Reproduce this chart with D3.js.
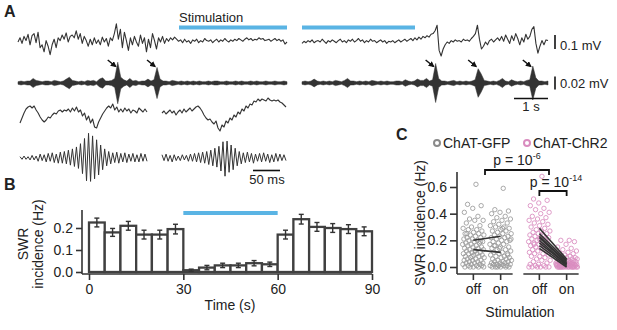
<!DOCTYPE html>
<html>
<head>
<meta charset="utf-8">
<script src="https://cdn.jsdelivr.net/npm/d3@7"></script>
<style>
  body { margin: 0; background: #fff; }
  svg { display: block; font-family: "Liberation Sans", Arial, sans-serif; }
</style>
</head>
<body>
<svg id="fig" width="617" height="330"></svg>
<script>
// ---------- data ----------
// A, row 1: wideband LFP (uV), before + during stimulation / during + after
const wideSeg1 = [0, 30, -10, 40, 10, 55, -20, 45, 60, -5, 70, -40, -20, -70, 10, -30, -90, -20, 20, -40,
  30, 10, 50, 20, 65, 0, 40, 50, 30, 80, 20, 60, -10, 40, 10, -30, 20, -20, 30, -10,
  15, -20, 35, 0, 25, -30, 30, 10, 60, 130, 20, 90, -40, 70, 10, -60, 30, -20, 40, 0,
  -30, 50, -10, 30, -70, 20, -40, 60, 10, -50, 30, 0, 40, -10, 25, 5, 30, 15, 35, 20,
  5, 15, -5, 20, 0, 10, -10, 15, 5, 20, -5, 10, 0, 25, 10, 5, 15, -5, 10, 20,
  0, 15, 5, 25, 10, 0, 15, 5, 20, 10, 25, 15, 5, 20, 30, 15, 25, 10, 20, 15,
  30, 20, 25, 10, 15, 20, 5, 15, 25, 10, 20, 5, 15, -15, 0];
const wideSeg2 = [-10, 5, -5, 10, 0, 15, -5, 5, 10, 0, 20, 5, -10, 10, 0, 15, 5, -5, 10, 20,
  0, 10, -5, 15, 5, 20, 0, 10, 25, 5, 15, -5, 10, 0, 20, 5, 10, -5, 5, 15,
  0, 10, -10, 5, 0, 10, -5, 5, 15, 0, 10, 20, 5, 15, 25, 10, 30, 15, 35, 20, 40,
  30, 45, 35, 55, 60, 80, 120, -60, -100, -50,
  -20, 0, -10, 10, 0, 15, 5, 10, 0, 20, 10, 15, 5, 25, 40, 60,
  120, 20, -50, -30, 0, -20, 10, 20, 0,
  15, 30, 10, 40, 5, 50, 20, -10, 45, 10, 60, 25, -20, 30, 0, 55, 20, 40, 90,
  110, -10, -80, -30, 10, -20, 15, 10];

// A, row 2: ripple-band envelope (uV)
const rippleEnv1 = [2, 3, 2, 3, 3, 7, 4, 3, 2, 3, 3, 2, 4, 3, 2, 3, 6, 9, 4, 3,
  2, 3, 2, 4, 3, 4, 2, 6, 8, 3, 3, 4, 7, 32, 9, 5, 3, 7, 3, 4,
  2, 3, 3, 6, 3, 5, 24, 6, 3, 3, 2, 4, 3, 2, 3, 2, 3, 2, 3, 2,
  3, 2, 2, 3, 2, 3, 3, 2, 2, 3, 2, 2, 3, 2, 3, 2, 2, 3, 2, 3,
  2, 2, 3, 2, 2, 3, 2, 2, 3, 2];
const rippleEnv2 = [2, 3, 2, 3, 6, 3, 2, 3, 2, 3, 2, 4, 3, 2, 4, 7, 3, 3, 2, 3,
  2, 3, 2, 4, 3, 2, 3, 2, 3, 2, 2, 3, 3, 2, 5, 3, 2, 3, 6, 4,
  4, 7, 3, 5, 30, 7, 3, 3, 2, 3, 4, 2, 3, 2, 3, 2, 3, 5, 22, 14,
  4, 3, 2, 3, 2, 4, 7, 3, 2, 5, 3, 2, 3, 2, 4, 5, 26, 8, 3, 3, 2, 3];
const rippleEvents1 = [33, 46];
const rippleEvents2 = [44, 58, 76];

// A, rows 3-4: single events, wideband (uV) and ripple band (uV)
const zoomWide1 = [-30, -5, 20, 40, 50, 55, 45, 55, 35, 20, 0, -15, -25, -15, 0, -5, 10, 20, 15, 30,
  35, 25, 35, 30, 40, 25, 45, 30, 50, 25, 35, 5, 20, -15, 5, -30, -10, -50, -55, -25,
  -5, 15, 30, 45, 55, 45, 65, 35, 50, 25, 40, 25, 45, 30, 40, 20, 35, 30, 20, 45, 35, 25, 40, 25];
const zoomWide2 = [20, 30, 15, 25, 35, 20, 30, 10, 25, 35, 20, 40, 25, 35, 45, 30, 40, 50, 55, 45,
  30, 10, -5, -15, -10, -25, -35, -20, -55, -70, -40, -50, -20, -30, -5, -15, 10, 0, 25, 15,
  40, 30, 55, 45, 65, 60, 80, 75, 90, 80, 90, 85, 80, 95, 85, 80, 85, 80, 85, 75, 70, 60, 50];
const zoomRipple1 = [2, -2, 3, -2, 2, -3, 4, -3, 3, -5, 6, -4, 5, -6, 7, -5, 8, -7, 6, -8,
  9, -8, 10, -9, 12, -11, 14, -13, 17, -16, 22, -24, 30, -35, 38, -36, 34, -32, 28, -26,
  20, -18, 14, -12, 10, -9, 8, -7, 9, -8, 7, -6, 8, -7, 6, -5, 7, -6, 5, -6, 7, -5, 6, -5];
const zoomRipple2 = [5, -4, 6, -5, 4, -6, 5, -4, 3, -4, 5, -3, 4, -5, 6, -5, 7, -6, 8, -7,
  9, -8, 10, -10, 12, -12, 15, -14, 18, -20, 25, -28, 26, -22, 20, -18, 15, -12, 10, -9,
  8, -7, 9, -6, 7, -8, 6, -5, 7, -6, 8, -5, 6, -7, 5, -6, 7, -5, 6, -4, 5, -4];

// B: SWR incidence in 5 s bins
const binStarts = [0, 5, 10, 15, 20, 25, 30, 35, 40, 45, 50, 55, 60, 65, 70, 75, 80, 85];
const binRates = [0.225, 0.18, 0.21, 0.17, 0.17, 0.195, 0.008, 0.02, 0.03, 0.03, 0.04, 0.035,
  0.17, 0.24, 0.205, 0.2, 0.195, 0.185];
const binErrors = [0.02, 0.018, 0.02, 0.02, 0.02, 0.022, 0.005, 0.01, 0.01, 0.01, 0.012, 0.01,
  0.02, 0.022, 0.02, 0.02, 0.02, 0.02];
const stimWindow = [30, 60];

// C: per-session SWR incidence
const groups = ["ChAT-GFP", "ChAT-ChR2"];
const conditions = ["off", "on"];
const gfpOff = [0.62, 0.47, 0.46, 0.44, 0.41, 0.38, 0.36, 0.35, 0.35, 0.33, 0.31, 0.30, 0.29, 0.28, 0.28,
  0.27, 0.26, 0.25, 0.25, 0.24, 0.24, 0.23, 0.22, 0.22, 0.21, 0.21, 0.20, 0.20, 0.19, 0.19, 0.18, 0.18,
  0.17, 0.17, 0.16, 0.16, 0.15, 0.15, 0.14, 0.14, 0.13, 0.13, 0.12, 0.12, 0.11, 0.11, 0.10, 0.10, 0.10,
  0.09, 0.09, 0.08, 0.08, 0.07, 0.07, 0.06, 0.06, 0.05, 0.05, 0.05, 0.04, 0.04, 0.03, 0.03, 0.03, 0.02,
  0.02, 0.02, 0.01, 0.01, 0.01, 0.0, 0.0, 0.0, 0.0, 0.0, 0.12, 0.25, 0.19, 0.08];
const gfpOn = [0.59, 0.43, 0.42, 0.41, 0.40, 0.38, 0.37, 0.36, 0.35, 0.34, 0.33, 0.32, 0.31, 0.30, 0.30,
  0.29, 0.28, 0.27, 0.27, 0.26, 0.25, 0.25, 0.24, 0.23, 0.23, 0.22, 0.22, 0.21, 0.20, 0.20, 0.19, 0.19,
  0.18, 0.17, 0.17, 0.16, 0.15, 0.15, 0.14, 0.13, 0.13, 0.12, 0.11, 0.11, 0.10, 0.10, 0.09, 0.08, 0.08,
  0.07, 0.07, 0.06, 0.06, 0.05, 0.05, 0.04, 0.04, 0.04, 0.03, 0.03, 0.03, 0.02, 0.02, 0.02, 0.02, 0.01,
  0.01, 0.01, 0.01, 0.0, 0.0, 0.0, 0.0, 0.0, 0.0, 0.21, 0.29, 0.16, 0.09, 0.14];
const chr2Off = [0.68, 0.51, 0.50, 0.48, 0.46, 0.44, 0.43, 0.41, 0.40, 0.38, 0.37, 0.36, 0.35, 0.34, 0.33,
  0.32, 0.31, 0.30, 0.29, 0.28, 0.27, 0.27, 0.26, 0.25, 0.25, 0.24, 0.23, 0.23, 0.22, 0.22, 0.21, 0.20,
  0.20, 0.19, 0.19, 0.18, 0.18, 0.17, 0.16, 0.16, 0.15, 0.14, 0.14, 0.13, 0.12, 0.12, 0.11, 0.10, 0.10,
  0.09, 0.08, 0.08, 0.07, 0.06, 0.05, 0.05, 0.04, 0.03, 0.02, 0.02, 0.01, 0.01, 0.0, 0.0, 0.0, 0.0,
  0.0, 0.0, 0.24, 0.17, 0.11, 0.21];
const chr2On = [0.20, 0.20, 0.19, 0.17, 0.15, 0.14, 0.13, 0.12, 0.11, 0.10, 0.10, 0.09, 0.09, 0.08, 0.08,
  0.07, 0.07, 0.07, 0.06, 0.06, 0.06, 0.05, 0.05, 0.05, 0.05, 0.04, 0.04, 0.04, 0.04, 0.04, 0.03, 0.03,
  0.03, 0.03, 0.03, 0.03, 0.02, 0.02, 0.02, 0.02, 0.02, 0.02, 0.02, 0.01, 0.01, 0.01, 0.01, 0.01, 0.01,
  0.01, 0.01, 0.0, 0.0, 0.0, 0.0, 0.0, 0.0, 0.0, 0.0, 0.0, 0.0, 0.0, 0.0, 0.0, 0.0, 0.0, 0.01, 0.02,
  0.03, 0.0];
// per-animal means (off -> on)
const gfpPairs = [[0.20, 0.23], [0.13, 0.11]];
const chr2Pairs = [[0.29, 0.06], [0.25, 0.05], [0.23, 0.04], [0.22, 0.03], [0.20, 0.02], [0.18, 0.02], [0.16, 0.01], [0.14, 0.0]];
const pLabels = [{ text: "p = 10", exp: "-6" }, { text: "p = 10", exp: "-14" }];

// ---------- drawing ----------
const ink = "#333";
const blue = "#5ab4e4";
const gray = "#9a9a9a";
const pink = "#d98cbf";

const svg = d3.select("#fig").style("background-color", "white");

function panelLetter(x, y, t) {
  svg.append("text").attr("x", x).attr("y", y).attr("font-size", 16).attr("font-weight", "bold").attr("fill", "#222").text(t);
}

// ===== Panel A =====
panelLetter(4, 17, "A");

const seg = {
  top1: [18, 287], top2: [302, 548],
  zoom1: [20, 147], zoom2: [162, 286]
};

svg.append("text").attr("x", 179).attr("y", 22).attr("font-size", 13).attr("fill", "#222").text("Stimulation");
[[179, 287], [302, 415]].forEach(r => {
  svg.append("line").attr("x1", r[0]).attr("x2", r[1]).attr("y1", 27.5).attr("y2", 27.5)
    .attr("stroke", blue).attr("stroke-width", 4);
});

function drawTrace(values, xr, yScale, width) {
  const x = d3.scaleLinear().domain([0, values.length - 1]).range(xr);
  svg.append("path")
    .datum(values)
    .attr("fill", "none")
    .attr("stroke", ink)
    .attr("stroke-width", width || 1.1)
    .attr("stroke-linejoin", "round")
    .attr("d", d3.line().x((d, i) => x(i)).y(d => yScale(d)));
  return x;
}

function drawEnvelope(values, xr, yScale) {
  const x = d3.scaleLinear().domain([0, values.length - 1]).range(xr);
  svg.append("path")
    .datum(values)
    .attr("fill", ink)
    .attr("stroke", ink)
    .attr("stroke-width", 0.5)
    .attr("d", d3.area().x((d, i) => x(i)).y0(d => yScale(-d)).y1(d => yScale(d)));
  return x;
}

const yWide = d3.scaleLinear().domain([-100, 100]).range([42 + 14, 42 - 14]);
const yRipple = d3.scaleLinear().domain([-20, 20]).range([83 + 13, 83 - 13]);
const yZoomWide = d3.scaleLinear().domain([-100, 100]).range([117 + 20, 117 - 20]);
const yZoomRipple = d3.scaleLinear().domain([-20, 20]).range([158 + 13, 158 - 13]);

drawTrace(wideSeg1, seg.top1, yWide);
drawTrace(wideSeg2, seg.top2, yWide);
const xr1 = drawEnvelope(rippleEnv1, seg.top1, yRipple);
const xr2 = drawEnvelope(rippleEnv2, seg.top2, yRipple);
drawTrace(zoomWide1, seg.zoom1, yZoomWide);
drawTrace(zoomWide2, seg.zoom2, yZoomWide);
drawTrace(zoomRipple1, seg.zoom1, yZoomRipple, 1);
drawTrace(zoomRipple2, seg.zoom2, yZoomRipple, 1);

// arrows marking ripples
svg.append("defs").append("marker")
  .attr("id", "head").attr("viewBox", "0 0 10 10").attr("refX", 8).attr("refY", 5)
  .attr("markerWidth", 4).attr("markerHeight", 4).attr("orient", "auto")
  .append("path").attr("d", "M0,0L10,5L0,10Z").attr("fill", "#111");
[[rippleEvents1, xr1], [rippleEvents2, xr2]].forEach(([evs, x]) => {
  evs.forEach(i => {
    svg.append("line")
      .attr("x1", x(i) - 10).attr("y1", 60).attr("x2", x(i) - 2).attr("y2", 66.5)
      .attr("stroke", "#111").attr("stroke-width", 1.5).attr("marker-end", "url(#head)");
  });
});

// scale bars
svg.append("line").attr("x1", 555).attr("x2", 555).attr("y1", yWide(50)).attr("y2", yWide(-50)).attr("stroke", "#111").attr("stroke-width", 1.6);
svg.append("text").attr("x", 560).attr("y", 50).attr("font-size", 13).attr("fill", "#222").text("0.1 mV");
svg.append("line").attr("x1", 555).attr("x2", 555).attr("y1", yRipple(10)).attr("y2", yRipple(-10)).attr("stroke", "#111").attr("stroke-width", 1.6);
svg.append("text").attr("x", 560).attr("y", 88).attr("font-size", 13).attr("fill", "#222").text("0.02 mV");
svg.append("line").attr("x1", 514).attr("x2", 548).attr("y1", 98.5).attr("y2", 98.5).attr("stroke", "#111").attr("stroke-width", 1.6);
svg.append("text").attr("x", 531).attr("y", 111).attr("font-size", 13).attr("text-anchor", "middle").attr("fill", "#222").text("1 s");
svg.append("line").attr("x1", 253).attr("x2", 280).attr("y1", 170.5).attr("y2", 170.5).attr("stroke", "#111").attr("stroke-width", 1.6);
svg.append("text").attr("x", 267).attr("y", 184).attr("font-size", 13).attr("text-anchor", "middle").attr("fill", "#222").text("50 ms");

// ===== Panel B =====
panelLetter(4, 190, "B");

const dimsB = { left: 82, right: 372, top: 210, bottom: 274 };
const xB = d3.scaleLinear().domain([0, 90]).range([89, 372]);
const yB = d3.scaleLinear().domain([0, 0.28]).range([272, 210.4]);

const gB = svg.append("g");
gB.selectAll("rect")
  .data(binStarts)
  .enter().append("rect")
  .attr("x", d => xB(d))
  .attr("width", d => xB(d + 5) - xB(d))
  .attr("y", (d, i) => yB(binRates[i]))
  .attr("height", (d, i) => yB(0) - yB(binRates[i]))
  .attr("fill", "white")
  .attr("stroke", "#404040")
  .attr("stroke-width", 2.3);

const errB = gB.selectAll(".err").data(binStarts).enter().append("g").attr("class", "err")
  .attr("transform", d => `translate(${xB(d + 2.5)},0)`);
errB.append("line").attr("y1", (d, i) => yB(binRates[i] - binErrors[i])).attr("y2", (d, i) => yB(binRates[i] + binErrors[i]))
  .attr("stroke", ink).attr("stroke-width", 1.4);
[-1, 1].forEach(s => {
  errB.append("line").attr("x1", -2.5).attr("x2", 2.5)
    .attr("y1", (d, i) => yB(binRates[i] + s * binErrors[i])).attr("y2", (d, i) => yB(binRates[i] + s * binErrors[i]))
    .attr("stroke", ink).attr("stroke-width", 1.4);
});

svg.append("line").attr("x1", xB(stimWindow[0])).attr("x2", xB(stimWindow[1])).attr("y1", 213).attr("y2", 213)
  .attr("stroke", blue).attr("stroke-width", 4);

const axB = svg.append("g").attr("transform", `translate(0,${dimsB.bottom})`)
  .call(d3.axisBottom(xB).tickValues([0, 30, 60, 90]).tickSize(6).tickSizeOuter(0));
axB.select(".domain").remove();
axB.append("line").attr("x1", dimsB.left).attr("x2", dimsB.right).attr("stroke", ink).attr("stroke-width", 1.6);
const ayB = svg.append("g").attr("transform", `translate(${dimsB.left},0)`)
  .call(d3.axisLeft(yB).tickValues([0, 0.1, 0.2]).tickFormat(d3.format(".1f")).tickSize(6).tickSizeOuter(0));
ayB.select(".domain").remove();
ayB.append("line").attr("y1", dimsB.top).attr("y2", dimsB.bottom).attr("stroke", ink).attr("stroke-width", 1.6);
[axB, ayB].forEach(a => {
  a.selectAll(".tick line").attr("stroke", ink).attr("stroke-width", 1.6);
  a.selectAll(".tick text").attr("font-size", 14).attr("font-family", null).attr("fill", "#222");
});
axB.selectAll(".tick text").attr("dy", "0.8em");

svg.append("text").attr("x", 230).attr("y", 310).attr("text-anchor", "middle").attr("font-size", 14).attr("fill", "#222").text("Time (s)");
svg.append("text").attr("transform", "translate(28,244) rotate(-90)").attr("text-anchor", "middle").attr("font-size", 14).attr("fill", "#222").text("SWR");
svg.append("text").attr("transform", "translate(43,244) rotate(-90)").attr("text-anchor", "middle").attr("font-size", 14).attr("fill", "#222").text("incidence (Hz)");

// ===== Panel C =====
panelLetter(396, 140, "C");

const yC = d3.scaleLinear().domain([0, 0.6]).range([267, 187]);
const axisXC = 457;
const groupX = d3.scaleBand().domain(groups).range([457, 583]).paddingInner(0.0909).paddingOuter(0);
const condX = d3.scalePoint().domain(conditions).range([0, groupX.bandwidth()]).padding(0.6);
const xC = (g, c) => groupX(g) + condX(c);
const jitterW = 22;
const jitter = i => (((i * 0.6180339) % 1) - 0.5) * jitterW;

const clouds = [
  { g: "ChAT-GFP", c: "off", vals: gfpOff, col: gray },
  { g: "ChAT-GFP", c: "on", vals: gfpOn, col: gray },
  { g: "ChAT-ChR2", c: "off", vals: chr2Off, col: pink },
  { g: "ChAT-ChR2", c: "on", vals: chr2On, col: pink }
];
clouds.forEach(cl => {
  svg.append("g").selectAll("circle")
    .data(cl.vals)
    .enter().append("circle")
    .attr("cx", (d, i) => xC(cl.g, cl.c) + jitter(i + 1))
    .attr("cy", d => yC(d))
    .attr("r", 2.2)
    .attr("fill", "none")
    .attr("stroke", cl.col)
    .attr("stroke-opacity", 0.85)
    .attr("stroke-width", 1);
});

[[gfpPairs, "ChAT-GFP"], [chr2Pairs, "ChAT-ChR2"]].forEach(([pairs, g]) => {
  svg.append("g").selectAll("line")
    .data(pairs)
    .enter().append("line")
    .attr("x1", xC(g, "off")).attr("x2", xC(g, "on"))
    .attr("y1", d => yC(d[0])).attr("y2", d => yC(d[1]))
    .attr("stroke", ink).attr("stroke-width", 1.6);
});

// axes C
const ayC = svg.append("g").attr("transform", `translate(${axisXC},0)`)
  .call(d3.axisLeft(yC).tickValues([0, 0.2, 0.4, 0.6]).tickFormat(d3.format(".1f")).tickSize(7).tickSizeOuter(0));
ayC.select(".domain").remove();
ayC.append("line").attr("y1", 172).attr("y2", 274).attr("stroke", ink).attr("stroke-width", 1.6);
const axC = svg.append("g").attr("transform", "translate(0,274)");
groups.forEach((g, gi) => {
  const x0 = gi === 0 ? axisXC : xC(g, "off") - 16;
  axC.append("line").attr("x1", x0).attr("x2", xC(g, "on") + 12).attr("stroke", ink).attr("stroke-width", 1.6);
  conditions.forEach(c => {
    axC.append("line").attr("x1", xC(g, c)).attr("x2", xC(g, c)).attr("y1", 0).attr("y2", 6).attr("stroke", ink).attr("stroke-width", 1.6);
    axC.append("text").attr("x", xC(g, c)).attr("y", 20).attr("text-anchor", "middle").attr("font-size", 14).attr("fill", "#222").text(c);
  });
});
ayC.selectAll(".tick line").attr("stroke", ink).attr("stroke-width", 1.6);
ayC.selectAll(".tick text").attr("font-size", 14).attr("font-family", null).attr("fill", "#222");

svg.append("text").attr("x", 520).attr("y", 317).attr("text-anchor", "middle").attr("font-size", 14).attr("fill", "#222").text("Stimulation");
svg.append("text").attr("transform", "translate(425,223) rotate(-90)").attr("text-anchor", "middle").attr("font-size", 14).attr("fill", "#222").text("SWR incidence (Hz)");

// legend
const legendX = [437, 527];
groups.forEach((g, i) => {
  svg.append("circle").attr("cx", legendX[i]).attr("cy", 143).attr("r", 3).attr("fill", "none")
    .attr("stroke", i === 0 ? "#8a8a8a" : pink).attr("stroke-width", 2);
  svg.append("text").attr("x", legendX[i] + 6).attr("y", 148).attr("font-size", 14).attr("fill", "#222").text(g);
});

// significance brackets
function bracket(x1, x2, y, label, tx, ty) {
  svg.append("path").attr("d", `M${x1},${y + 5}V${y}H${x2}V${y + 5}`)
    .attr("fill", "none").attr("stroke", "#111").attr("stroke-width", 1.8);
  const t = svg.append("text").attr("x", tx).attr("y", ty).attr("text-anchor", "middle").attr("font-size", 14).attr("fill", "#222");
  t.append("tspan").text(label.text);
  t.append("tspan").attr("dy", -6).attr("font-size", 9).text(label.exp);
}
const mid = g => (xC(g, "off") + xC(g, "on")) / 2;
bracket(mid("ChAT-GFP") - 2, mid("ChAT-ChR2") - 4, 170, pLabels[0], 517, 165);
bracket(xC("ChAT-ChR2", "off"), xC("ChAT-ChR2", "on"), 191, pLabels[1], 556, 187);
</script>
</body>
</html>
